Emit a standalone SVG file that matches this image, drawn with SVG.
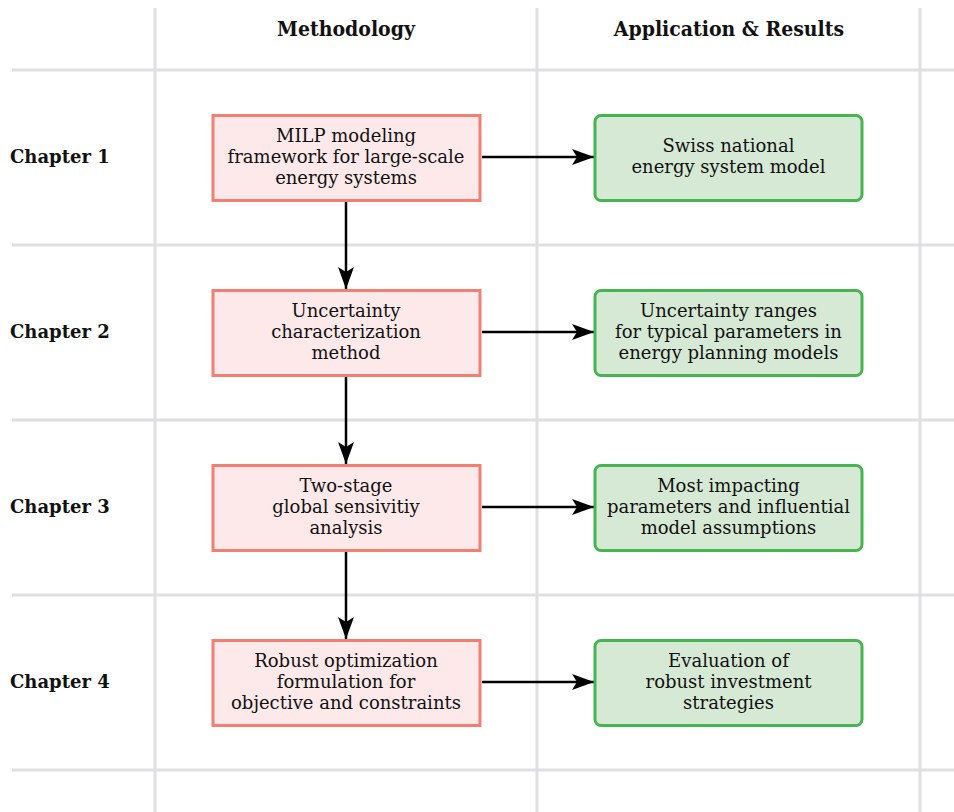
<svg xmlns="http://www.w3.org/2000/svg" width="954" height="812" viewBox="0 0 954 812">
  <style>
    .grid { stroke: #e0e0e2; stroke-width: 3; fill: none; }
    .head { font-family: "DejaVu Serif Condensed", "DejaVu Serif", serif; font-stretch: condensed; font-weight: bold; font-size: 21px; fill: #111; text-anchor: middle; }
    .chap { font-family: "DejaVu Serif", serif; font-weight: bold; font-size: 18px; fill: #111; }
    .txt { font-family: "DejaVu Serif", serif; font-size: 18px; fill: #111; text-anchor: middle; }
    .method { fill: #fde9e9; stroke: #f28072; stroke-width: 3; }
    .result { fill: #d5e9d4; stroke: #46b54f; stroke-width: 3; }
    .conn { stroke: #000; stroke-width: 2.5; fill: none; marker-end: url(#arrow); }
  </style>
  <defs>
    <marker id="arrow" viewBox="0 0 22 16" refX="22" refY="8" markerWidth="22" markerHeight="16" markerUnits="userSpaceOnUse" orient="auto">
      <path d="M0,0 L22,8 L0,16 L5,8 Z" fill="#000"/>
    </marker>
  </defs>
  <rect width="954" height="812" fill="#fff"/>

  <!-- table grid -->
  <g id="grid">
    <line class="grid" x1="155" y1="8" x2="155" y2="812"/>
    <line class="grid" x1="537" y1="8" x2="537" y2="812"/>
    <line class="grid" x1="920" y1="8" x2="920" y2="812"/>
    <line class="grid" x1="12" y1="70" x2="954" y2="70"/>
    <line class="grid" x1="12" y1="245" x2="954" y2="245"/>
    <line class="grid" x1="12" y1="420" x2="954" y2="420"/>
    <line class="grid" x1="12" y1="595" x2="954" y2="595"/>
    <line class="grid" x1="12" y1="770" x2="954" y2="770"/>
  </g>

  <!-- column and row headings -->
  <g id="headings">
    <text class="head" x="346" y="36">Methodology</text>
    <text class="head" x="729" y="36">Application &amp; Results</text>
    <text class="chap" x="10" y="163">Chapter 1</text>
    <text class="chap" x="10" y="338">Chapter 2</text>
    <text class="chap" x="10" y="513">Chapter 3</text>
    <text class="chap" x="10" y="688">Chapter 4</text>
  </g>

  <!-- connectors -->
  <g id="connectors">
    <line class="conn" x1="482" y1="157" x2="594" y2="157"/>
    <line class="conn" x1="482" y1="332" x2="594" y2="332"/>
    <line class="conn" x1="482" y1="507" x2="594" y2="507"/>
    <line class="conn" x1="482" y1="682" x2="594" y2="682"/>
    <line class="conn" x1="346" y1="202" x2="346" y2="289"/>
    <line class="conn" x1="346" y1="377" x2="346" y2="464"/>
    <line class="conn" x1="346" y1="552" x2="346" y2="639"/>
  </g>

  <!-- methodology nodes -->
  <g id="m1">
    <rect class="method" x="213" y="115.5" width="267" height="85"/>
    <text class="txt" x="346" y="141.5">MILP modeling</text>
    <text class="txt" x="346" y="162.5">framework for large-scale</text>
    <text class="txt" x="346" y="183.5">energy systems</text>
  </g>
  <g id="m2">
    <rect class="method" x="213" y="290.5" width="267" height="85"/>
    <text class="txt" x="346" y="316.5">Uncertainty</text>
    <text class="txt" x="346" y="337.5">characterization</text>
    <text class="txt" x="346" y="358.5">method</text>
  </g>
  <g id="m3">
    <rect class="method" x="213" y="465.5" width="267" height="85"/>
    <text class="txt" x="346" y="491.5">Two-stage</text>
    <text class="txt" x="346" y="512.5">global sensivitiy</text>
    <text class="txt" x="346" y="533.5">analysis</text>
  </g>
  <g id="m4">
    <rect class="method" x="213" y="640.5" width="267" height="85"/>
    <text class="txt" x="346" y="666.5">Robust optimization</text>
    <text class="txt" x="346" y="687.5">formulation for</text>
    <text class="txt" x="346" y="708.5">objective and constraints</text>
  </g>

  <!-- result nodes -->
  <g id="r1">
    <rect class="result" x="595" y="115.5" width="267" height="85" rx="6"/>
    <text class="txt" x="728.5" y="152">Swiss national</text>
    <text class="txt" x="728.5" y="173">energy system model</text>
  </g>
  <g id="r2">
    <rect class="result" x="595" y="290.5" width="267" height="85" rx="6"/>
    <text class="txt" x="728.5" y="316.5">Uncertainty ranges</text>
    <text class="txt" x="728.5" y="337.5">for typical parameters in</text>
    <text class="txt" x="728.5" y="358.5">energy planning models</text>
  </g>
  <g id="r3">
    <rect class="result" x="595" y="465.5" width="267" height="85" rx="6"/>
    <text class="txt" x="728.5" y="491.5">Most impacting</text>
    <text class="txt" x="728.5" y="512.5">parameters and influential</text>
    <text class="txt" x="728.5" y="533.5">model assumptions</text>
  </g>
  <g id="r4">
    <rect class="result" x="595" y="640.5" width="267" height="85" rx="6"/>
    <text class="txt" x="728.5" y="666.5">Evaluation of</text>
    <text class="txt" x="728.5" y="687.5">robust investment</text>
    <text class="txt" x="728.5" y="708.5">strategies</text>
  </g>
</svg>
